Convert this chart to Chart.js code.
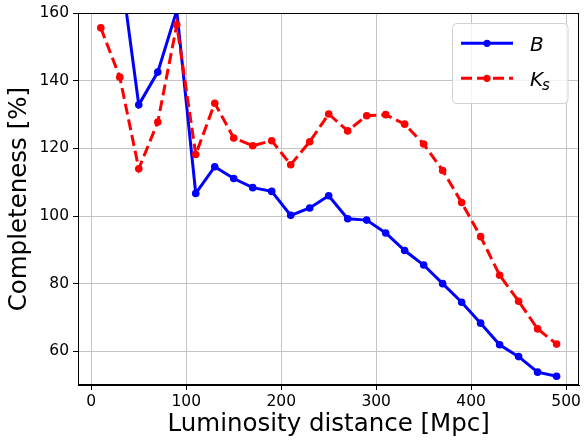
<!DOCTYPE html>
<html>
<head>
<meta charset="utf-8">
<script src="https://cdn.jsdelivr.net/npm/chart.js@4"></script>
<style>
html,body{margin:0;padding:0;background:#fff;}
canvas{display:block;}
</style>
</head>
<body>
<canvas id="c" width="584" height="440"></canvas>
<script>
const distances = [10,30,50,70,90,110,130,150,170,190,210,230,250,270,290,310,330,350,370,390,410,430,450,470,490];
const bValues = [185,175,132.9,142.6,160.8,106.7,114.6,111.1,108.4,107.3,100.2,102.4,106.0,99.2,98.8,95.0,89.8,85.5,80.0,74.5,68.3,61.9,58.4,53.8,52.6];
const ksValues = [155.7,141.1,114.0,127.8,156.6,118.2,133.4,123.1,120.8,122.3,115.2,122.0,130.2,125.2,129.7,130.0,127.2,121.3,113.5,104.0,93.9,82.5,74.8,66.6,62.1];
const xTicks = [0,100,200,300,400,500];
const yTicks = [60,80,100,120,140,160];
const seriesLabels = ['B','K_s'];
const seriesColors = ['#0000ff','#ff0000'];

const FONT = "'DejaVu Sans', sans-serif";

const frame = {
  id: 'frame',
  afterDatasetsDraw(chart) {
    const a = chart.chartArea, ctx = chart.ctx;
    ctx.save();
    ctx.strokeStyle = '#000';
    ctx.lineWidth = 1;
    ctx.strokeRect(Math.round(a.left)+0.5, Math.round(a.top)+0.5, Math.round(a.right-a.left)-1, Math.round(a.bottom-a.top)-1);
    ctx.restore();
  },
  afterDraw(chart) {
    const ctx = chart.ctx;
    ctx.save();
    const bx = 452.5, by = 23.5, bw = 115.5, bh = 80, r = 4;
    ctx.beginPath();
    ctx.roundRect(bx, by, bw, bh, r);
    ctx.fillStyle = 'rgba(255,255,255,0.8)';
    ctx.fill();
    ctx.strokeStyle = '#d2d2d2';
    ctx.lineWidth = 1;
    ctx.stroke();
    const rows = [43.3, 78.3];
    chart.data.datasets.forEach((ds, i) => {
      const y = rows[i];
      ctx.beginPath();
      ctx.setLineDash(ds.borderDash || []);
      ctx.strokeStyle = ds.borderColor;
      ctx.lineWidth = ds.borderWidth;
      ctx.moveTo(461, y);
      ctx.lineTo(513, y);
      ctx.stroke();
      ctx.setLineDash([]);
      ctx.beginPath();
      ctx.arc(487, y, 3.6, 0, Math.PI*2);
      ctx.fillStyle = ds.borderColor;
      ctx.fill();
      ctx.fillStyle = '#000';
      ctx.textBaseline = 'alphabetic';
      ctx.textAlign = 'left';
      const lab = ds.label;
      if (lab.indexOf('_') >= 0) {
        const [main, sub] = lab.split('_');
        ctx.font = "italic 20px " + FONT;
        ctx.fillText(main, 530, y + 7.8);
        const w = ctx.measureText(main).width;
        ctx.font = "italic 15px " + FONT;
        ctx.fillText(sub, 530 + w - 1, y + 11.5);
      } else {
        ctx.font = "italic 20px " + FONT;
        ctx.fillText(lab, 530, y + 7.4);
      }
    });
    ctx.restore();
  }
};

new Chart(document.getElementById('c'), {
  type: 'line',
  data: {
    datasets: [
      {
        label: seriesLabels[0],
        data: distances.map((x,i)=>({x:x, y:bValues[i]})),
        borderColor: seriesColors[0],
        backgroundColor: seriesColors[0],
        borderWidth: 3,
        pointRadius: 3.8,
        pointBorderWidth: 0,
        pointBackgroundColor: seriesColors[0],
        fill: false,
        tension: 0,
        clip: 0,
        order: 1
      },
      {
        label: seriesLabels[1],
        data: distances.map((x,i)=>({x:x, y:ksValues[i]})),
        borderColor: seriesColors[1],
        backgroundColor: seriesColors[1],
        borderWidth: 3,
        borderDash: [11,5],
        pointRadius: 3.8,
        pointBorderWidth: 0,
        pointBackgroundColor: seriesColors[1],
        fill: false,
        tension: 0,
        clip: 0,
        order: 0
      }
    ]
  },
  options: {
    responsive: false,
    animation: false,
    devicePixelRatio: 1,
    layout: { padding: { top: 11, right: 4, left: 0, bottom: 0 } },
    plugins: { legend: { display: false }, tooltip: { enabled: false } },
    scales: {
      x: {
        type: 'linear',
        min: -14, max: 514,
        afterBuildTicks: s => { s.ticks = xTicks.map(v=>({value:v})); },
        afterFit: s => { s.height = 55; },
        grid: { color: '#c4c4c4', lineWidth: 1, drawTicks: true, tickLength: 5, tickColor: '#000' },
        border: { display: true, color: '#000', width: 1 },
        ticks: { color: '#000', font: { family: FONT, size: 15.5 }, padding: 3, maxRotation: 0, autoSkip: false },
        title: { display: true, text: 'Luminosity distance [Mpc]', color: '#000', font: { family: FONT, size: 24.5, lineHeight: 1.2 }, padding: { top: 0, bottom: 1 } }
      },
      y: {
        type: 'linear',
        min: 50, max: 160,
        afterBuildTicks: s => { s.ticks = yTicks.map(v=>({value:v})); },
        afterFit: s => { s.width = 78; },
        grid: { color: '#c4c4c4', lineWidth: 1, drawTicks: true, tickLength: 5, tickColor: '#000' },
        border: { display: true, color: '#000', width: 1 },
        ticks: { color: '#000', font: { family: FONT, size: 15.5 }, padding: 4, autoSkip: false },
        title: { display: true, text: 'Completeness [%]', color: '#000', font: { family: FONT, size: 24.5, lineHeight: 1.2 }, padding: { top: 5, bottom: 0 } }
      }
    }
  },
  plugins: [frame]
});
</script>
</body>
</html>
